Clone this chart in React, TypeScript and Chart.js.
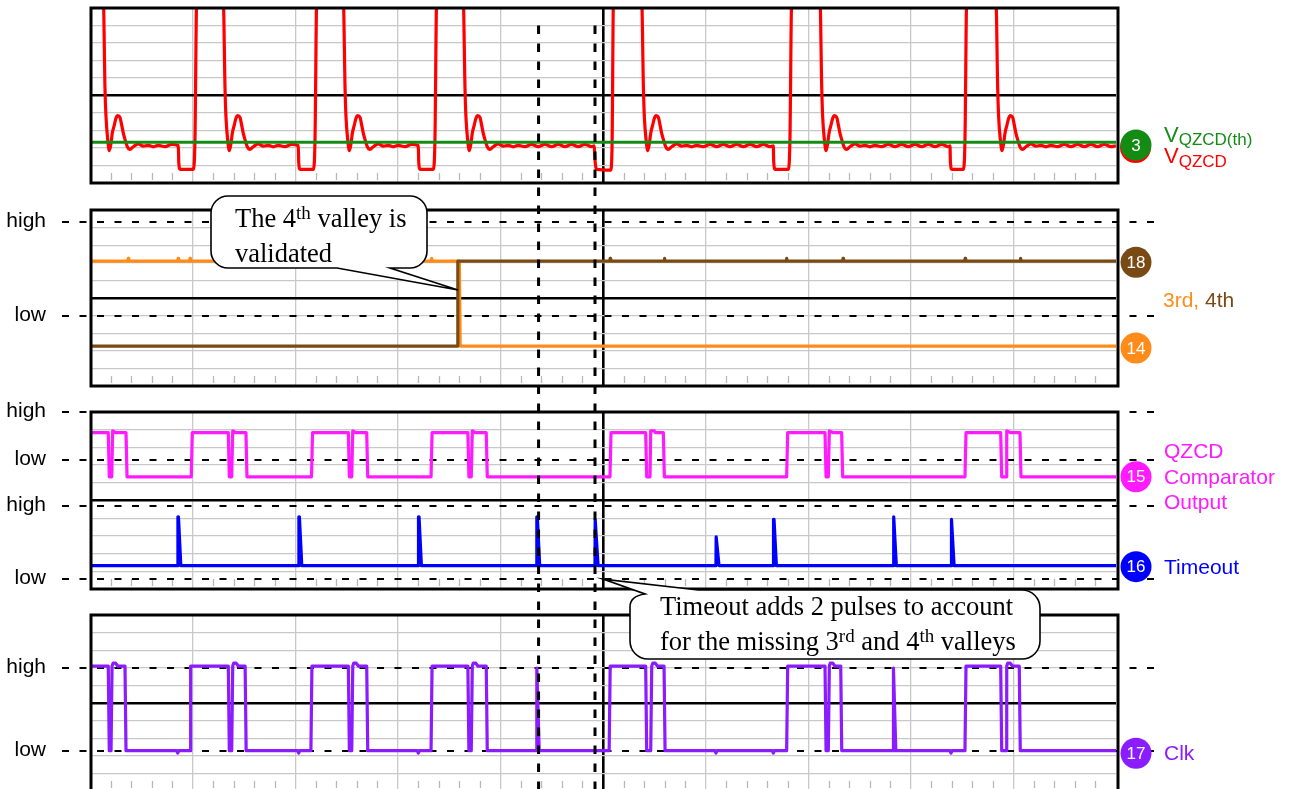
import { useEffect, useRef } from "react";
import { Chart, registerables } from "chart.js";

Chart.register(...registerables);

type Pt = [number, number];

// ---------------- data ----------------
// time axis in µs: 10 divisions of 10 µs, minor ticks every 2 µs
const timeMin = 0;
const timeMax = 100;
const timeMajor = 10;
const timeMinor = 2;
// every panel is 10 vertical divisions
const divMin = 0;
const divMax = 10;

// Panel 1 : V_QZCD(th) threshold and V_QZCD
const vqzcdThreshold: Pt[] = [[0, 2.33], [100, 2.33]];
const vqzcd: Pt[] = [
  [0, 10.4], [1.30, 10.4],
  [1.46, 5.41], [1.56, 3.79], [1.73, 2.46], [1.88, 1.85], [2.05, 2.27], [2.17, 2.84], [2.37, 3.31], [2.53, 3.70], [2.70, 3.85], [2.92, 3.75], [3.09, 3.31], [3.25, 2.84], [3.48, 2.36], [3.64, 2.07], [3.90, 1.92], [4.22, 2.07], [4.71, 2.23], [5.20, 2.11], [5.68, 2.15], [6.17, 2.07], [6.66, 2.15], [7.31, 2.08], [7.96, 2.20], [8.61, 2.13], [8.65, 1.2], [8.78, 0.78], [10.07, 0.78], [10.23, 2.46], [10.40, 10.4],
  [12.99, 10.4], [13.16, 5.41], [13.25, 3.79], [13.42, 2.46], [13.58, 1.85], [13.74, 2.27], [13.87, 2.84], [14.06, 3.31], [14.23, 3.70], [14.39, 3.85], [14.62, 3.75], [14.78, 3.31], [14.94, 2.84], [15.17, 2.36], [15.33, 2.07], [15.59, 1.92], [15.91, 2.07], [16.40, 2.23], [16.89, 2.11], [17.38, 2.15], [17.86, 2.07], [18.35, 2.15], [19.00, 2.08], [19.65, 2.20], [20.30, 2.13], [20.34, 1.2], [20.47, 0.78], [21.77, 0.78], [21.93, 2.46], [22.10, 10.4],
  [24.69, 10.4], [24.86, 5.41], [24.95, 3.79], [25.12, 2.46], [25.28, 1.85], [25.44, 2.27], [25.57, 2.84], [25.76, 3.31], [25.93, 3.70], [26.09, 3.85], [26.32, 3.75], [26.48, 3.31], [26.64, 2.84], [26.87, 2.36], [27.03, 2.07], [27.29, 1.92], [27.61, 2.07], [28.10, 2.23], [28.59, 2.11], [29.08, 2.15], [29.56, 2.07], [30.05, 2.15], [30.70, 2.08], [31.35, 2.20], [32.00, 2.13], [32.04, 1.2], [32.17, 0.78], [33.46, 0.78], [33.62, 2.46], [33.79, 10.4],
  [36.38, 10.4], [36.55, 5.41], [36.64, 3.79], [36.81, 2.46], [36.97, 1.85], [37.13, 2.27], [37.26, 2.84], [37.45, 3.31], [37.62, 3.70], [37.78, 3.85], [38.01, 3.75], [38.17, 3.31], [38.33, 2.84], [38.56, 2.36], [38.72, 2.07], [38.98, 1.92], [39.30, 2.07], [39.79, 2.23], [40.28, 2.11], [40.77, 2.15], [41.25, 2.07], [41.74, 2.15], [42.39, 2.08], [43.04, 2.20], [43.69, 2.08], [44.34, 2.20], [44.99, 2.08], [45.64, 2.20], [46.29, 2.08], [46.94, 2.20], [47.59, 2.08], [48.24, 2.20], [48.89, 2.08], [49.15, 2.13], [49.19, 1.6], [49.29, 0.93], [49.42, 0.78], [50.74, 0.74], [50.88, 2.0], [51.02, 10.4],
  [53.77, 10.4], [53.94, 5.41], [54.03, 3.79], [54.20, 2.46], [54.36, 1.85], [54.52, 2.27], [54.65, 2.84], [54.84, 3.31], [55.01, 3.70], [55.17, 3.85], [55.40, 3.75], [55.56, 3.31], [55.72, 2.84], [55.95, 2.36], [56.11, 2.07], [56.37, 1.92], [56.69, 2.07], [57.18, 2.23], [57.67, 2.11], [58.16, 2.15], [58.64, 2.07], [59.13, 2.15], [59.78, 2.08], [60.43, 2.20], [61.08, 2.08], [61.73, 2.20], [62.38, 2.08], [63.03, 2.20], [63.68, 2.08], [64.33, 2.20], [64.98, 2.08], [65.63, 2.20], [66.28, 2.08], [66.60, 2.13], [66.64, 1.2], [66.77, 0.78], [68.06, 0.78], [68.22, 2.46], [68.39, 10.4],
  [71.15, 10.4], [71.32, 5.41], [71.41, 3.79], [71.58, 2.46], [71.74, 1.85], [71.90, 2.27], [72.03, 2.84], [72.22, 3.31], [72.39, 3.70], [72.55, 3.85], [72.78, 3.75], [72.94, 3.31], [73.10, 2.84], [73.33, 2.36], [73.49, 2.07], [73.75, 1.92], [74.07, 2.07], [74.56, 2.23], [75.05, 2.11], [75.54, 2.15], [76.02, 2.07], [76.51, 2.15], [77.16, 2.08], [77.81, 2.20], [78.46, 2.08], [79.11, 2.20], [79.76, 2.08], [80.41, 2.20], [81.06, 2.08], [81.71, 2.20], [82.36, 2.08], [83.01, 2.20], [83.66, 2.08], [83.82, 2.13], [83.86, 1.2], [83.99, 0.78], [85.12, 0.78], [85.28, 2.46], [85.45, 10.4],
  [88.30, 10.4], [88.47, 5.41], [88.56, 3.79], [88.73, 2.46], [88.89, 1.85], [89.05, 2.27], [89.18, 2.84], [89.37, 3.31], [89.54, 3.70], [89.70, 3.85], [89.93, 3.75], [90.09, 3.31], [90.25, 2.84], [90.48, 2.36], [90.64, 2.07], [90.90, 1.92], [91.22, 2.07], [91.71, 2.23], [92.20, 2.11], [92.69, 2.15], [93.17, 2.07], [93.66, 2.15], [94.31, 2.08], [94.96, 2.20], [95.61, 2.08], [96.26, 2.20], [96.91, 2.08], [97.56, 2.20], [98.21, 2.08], [98.86, 2.20], [99.51, 2.08], [100, 2.13],
];

// Panel 2 : 3rd / 4th valley flags
const valley3rd: Pt[] = [
  [0, 7.10], [3.68, 7.10], [3.73, 7.25], [3.78, 7.10], [8.55, 7.10], [8.60, 7.25], [8.65, 7.10],
  [9.70, 7.10], [9.75, 7.25], [9.80, 7.10], [15.25, 7.10], [15.30, 7.25], [15.35, 7.10],
  [20.25, 7.10], [20.30, 7.25], [20.35, 7.10], [21.45, 7.10], [21.50, 7.25], [21.55, 7.10],
  [27.05, 7.10], [27.10, 7.25], [27.15, 7.10], [31.95, 7.10], [32.00, 7.25], [32.05, 7.10],
  [33.25, 7.10], [33.30, 7.25], [33.35, 7.10], [36.00, 7.10], [36.08, 2.27], [100, 2.27],
];
const valley4th: Pt[] = [
  [0, 2.27], [35.80, 2.27], [35.85, 7.10], [50.65, 7.10], [50.70, 7.25], [50.75, 7.10],
  [55.95, 7.10], [56.00, 7.25], [56.05, 7.10], [67.85, 7.10], [67.90, 7.25], [67.95, 7.10],
  [73.35, 7.10], [73.40, 7.25], [73.45, 7.10], [85.25, 7.10], [85.30, 7.25], [85.35, 7.10],
  [90.65, 7.10], [90.70, 7.25], [90.75, 7.10], [100, 7.10],
];

// Panel 3 : QZCD comparator output and timeout
const qzcdOutput: Pt[] = [
  [0, 8.84], [1.78, 8.84], [1.88, 6.34], [2.12, 6.34], [2.21, 8.93], [2.50, 8.84], [3.51, 8.84], [3.61, 6.34], [9.87, 6.34], [9.97, 8.84],
  [13.48, 8.84], [13.58, 6.34], [13.81, 6.34], [13.91, 8.93], [14.20, 8.84], [15.20, 8.84], [15.30, 6.34], [21.59, 6.34], [21.69, 8.84],
  [25.18, 8.84], [25.28, 6.34], [25.51, 6.34], [25.61, 8.93], [25.90, 8.84], [26.97, 8.84], [27.07, 6.34], [33.24, 6.34], [33.34, 8.84],
  [36.83, 8.84], [36.93, 6.34], [37.16, 6.34], [37.26, 8.93], [37.55, 8.84], [38.62, 8.84], [38.72, 6.34], [50.68, 6.34], [50.78, 8.84],
  [54.16, 8.84], [54.26, 6.34], [54.58, 6.34], [54.65, 8.93], [55.00, 8.93], [55.10, 8.84], [55.88, 8.84], [55.98, 6.34], [67.90, 6.34], [68.00, 8.84],
  [71.64, 8.84], [71.74, 6.34], [71.96, 6.34], [72.06, 8.93], [72.40, 8.84], [73.26, 8.84], [73.36, 6.34], [85.28, 6.34], [85.38, 8.84],
  [88.76, 8.84], [88.86, 6.34], [89.28, 6.34], [89.35, 8.93], [89.70, 8.84], [90.64, 8.84], [90.74, 6.34], [100, 6.34],
];
const timeout: Pt[] = [
  [0, 1.32],
  [8.55, 1.32], [8.57, 4.08], [8.62, 4.08], [8.85, 1.32],
  [20.34, 1.32], [20.36, 4.08], [20.41, 4.08], [20.64, 1.32],
  [32.00, 1.32], [32.02, 4.08], [32.07, 4.08], [32.30, 1.32],
  [43.53, 1.32], [43.55, 4.08], [43.60, 4.08], [43.83, 1.32],
  [49.22, 1.32], [49.24, 3.90], [49.29, 3.90], [49.52, 1.32],
  [61.01, 1.32], [61.03, 2.95], [61.08, 2.95], [61.31, 1.32],
  [66.60, 1.32], [66.62, 3.94], [66.67, 3.94], [66.90, 1.32],
  [78.29, 1.32], [78.31, 4.08], [78.36, 4.08], [78.59, 1.32],
  [83.92, 1.32], [83.94, 3.94], [83.99, 3.94], [84.22, 1.32],
  [100, 1.32],
];

// Panel 4 : Clk
const clk: Pt[] = [
  [0, 7.10], [1.78, 7.10], [1.88, 2.29], [2.05, 2.29], [2.15, 7.10], [2.25, 7.26], [2.50, 7.26], [2.70, 7.10], [3.41, 7.10], [3.51, 2.29],
  [8.45, 2.29], [8.55, 2.16], [8.65, 2.29], [9.75, 2.29], [9.81, 7.10],
  [13.48, 7.10], [13.58, 2.29], [13.81, 2.29], [13.91, 7.10], [14.00, 7.26], [14.25, 7.26], [14.45, 7.10], [15.12, 7.10], [15.22, 2.29],
  [20.24, 2.29], [20.34, 2.16], [20.44, 2.29], [21.53, 2.29], [21.63, 7.10],
  [25.18, 7.10], [25.28, 2.29], [25.51, 2.29], [25.61, 7.10], [25.70, 7.26], [25.95, 7.26], [26.15, 7.10], [26.97, 7.10], [27.07, 2.29],
  [31.90, 2.29], [32.00, 2.16], [32.10, 2.29], [33.24, 2.29], [33.34, 7.10],
  [36.83, 7.10], [36.93, 2.29], [37.16, 2.29], [37.26, 7.10], [37.35, 7.26], [37.60, 7.26], [37.80, 7.10], [38.62, 7.10], [38.72, 2.29],
  [43.53, 2.29], [43.55, 6.99], [43.78, 2.29], [50.60, 2.29], [50.70, 7.10],
  [54.16, 7.10], [54.26, 2.29], [54.65, 2.29], [54.75, 7.10], [54.85, 7.26], [55.10, 7.26], [55.30, 7.10], [55.95, 7.10], [56.05, 2.29],
  [60.91, 2.29], [61.01, 2.16], [61.11, 2.29], [66.50, 2.29], [66.60, 2.16], [66.70, 2.29], [67.90, 2.29], [68.00, 7.10],
  [71.64, 7.10], [71.74, 2.29], [71.96, 2.29], [72.06, 7.10], [72.15, 7.26], [72.40, 7.26], [72.60, 7.10], [73.17, 7.10], [73.27, 2.29],
  [78.29, 2.29], [78.31, 6.99], [78.54, 2.29], [83.82, 2.29], [83.92, 2.16], [84.02, 2.29], [85.28, 2.29], [85.38, 7.10],
  [88.76, 7.10], [88.86, 2.29], [89.28, 2.29], [89.35, 7.10], [89.45, 7.26], [89.70, 7.26], [89.90, 7.10], [90.57, 7.10], [90.67, 2.29],
  [100, 2.29],
];

// logic level rows (high, low) per panel
const rowLabels = ["high", "low"];
const valleyRows = [9.32, 3.98];
const qzcdRows = [10.0, 7.29];
const timeoutRows = [4.69, 0.56];
const clkRows = [6.99, 2.27];

// vertical markers (µs)
const markerTimes = [43.72, 49.22];
const markerTopDiv = 9.0;

// callout anchors (time µs, divisions)
const callout1Tip: Pt = [35.87, 5.45];
const callout2Tip: Pt = [50.0, 0.56];

// ---------------- styling / layout ----------------
const CANVAS_W = 1289;
const CANVAS_H = 800;
const PLOT_LEFT = 90;
const PLOT_RIGHT = 1116;
const PANEL_BOXES = [
  { top: 8, bottom: 183 },
  { top: 210, bottom: 386 },
  { top: 412, bottom: 589 },
  { top: 615, bottom: 791 },
];
const SANS = '"Liberation Sans", Arial, Helvetica, sans-serif';
const SERIF = '"Liberation Serif", "Times New Roman", serif';
const GRID_GRAY = "#c8c8c8";
const C = {
  red: "#ff0000",
  green: "#148c14",
  orange: "#ff8c1a",
  brown: "#7a4a14",
  magenta: "#ff1aff",
  blue: "#0000ff",
  purple: "#8a1cff",
};

const toXY = (a: Pt[]) => a.map(([x, y]) => ({ x, y }));

function xScaleOpts(): any {
  const mid = (timeMin + timeMax) / 2;
  return {
    type: "linear",
    min: timeMin,
    max: timeMax,
    ticks: { display: false, stepSize: timeMajor },
    grid: {
      drawTicks: false,
      color: (c: any) => {
        const v = c.tick?.value;
        if (v === timeMin || v === timeMax) return "rgba(0,0,0,0)";
        return Math.abs(v - mid) < 1e-6 ? "#000" : GRID_GRAY;
      },
      lineWidth: (c: any) => (Math.abs((c.tick?.value ?? 0) - mid) < 1e-6 ? 2.6 : 1.3),
    },
    border: { display: false },
    afterFit: (s: any) => {
      s.height = 0;
    },
  };
}

function yScaleOpts(): any {
  const mid = (divMin + divMax) / 2;
  return {
    type: "linear",
    min: divMin,
    max: divMax,
    ticks: { display: false, stepSize: 1 },
    grid: {
      drawTicks: false,
      color: (c: any) => {
        const v = c.tick?.value;
        if (v === divMin || v === divMax) return "rgba(0,0,0,0)";
        return Math.abs(v - mid) < 1e-6 ? "#000" : GRID_GRAY;
      },
      lineWidth: (c: any) => (Math.abs((c.tick?.value ?? 0) - mid) < 1e-6 ? 2.6 : 1.3),
    },
    border: { display: false },
    afterFit: (s: any) => {
      s.width = 0;
    },
  };
}

type Run = { text: string; size: number; dy?: number; color?: string; family?: string };

function drawRuns(ctx: CanvasRenderingContext2D, x: number, y: number, runs: Run[]) {
  ctx.textAlign = "left";
  ctx.textBaseline = "alphabetic";
  let cx = x;
  for (const r of runs) {
    ctx.font = `${r.size}px ${r.family ?? SANS}`;
    ctx.fillStyle = r.color ?? "#000";
    ctx.fillText(r.text, cx, y + (r.dy ?? 0));
    cx += ctx.measureText(r.text).width;
  }
}

function badge(ctx: CanvasRenderingContext2D, x: number, y: number, color: string, text: string) {
  ctx.beginPath();
  ctx.arc(x, y, 15.5, 0, Math.PI * 2);
  ctx.fillStyle = color;
  ctx.fill();
  ctx.fillStyle = "#fff";
  ctx.font = `17px ${SANS}`;
  ctx.textAlign = "center";
  ctx.textBaseline = "middle";
  ctx.fillText(text, x, y + 1);
}

function drawCallout1(ctx: CanvasRenderingContext2D, tipX: number, tipY: number) {
  const l = 211, t = 196, r = 427, b = 268, rad = 17;
  ctx.beginPath();
  ctx.moveTo(l + rad, t);
  ctx.lineTo(r - rad, t);
  ctx.arcTo(r, t, r, t + rad, rad);
  ctx.lineTo(r, b - rad);
  ctx.arcTo(r, b, r - rad, b, rad);
  ctx.lineTo(390, b);
  ctx.lineTo(tipX, tipY);
  ctx.lineTo(337, b);
  ctx.lineTo(l + rad, b);
  ctx.arcTo(l, b, l, b - rad, rad);
  ctx.lineTo(l, t + rad);
  ctx.arcTo(l, t, l + rad, t, rad);
  ctx.closePath();
  ctx.fillStyle = "#fff";
  ctx.fill();
  ctx.strokeStyle = "#000";
  ctx.lineWidth = 1.6;
  ctx.setLineDash([]);
  ctx.stroke();
  const fs = 26.5, ss = 19;
  drawRuns(ctx, 235, 227, [
    { text: "The 4", size: fs, family: SERIF },
    { text: "th", size: ss, dy: -8.5, family: SERIF },
    { text: " valley is", size: fs, family: SERIF },
  ]);
  drawRuns(ctx, 235, 262, [{ text: "validated", size: fs, family: SERIF }]);
}

function drawCallout2(ctx: CanvasRenderingContext2D, tipX: number, tipY: number) {
  const l = 630, t = 590, r = 1040, b = 659, rad = 18;
  ctx.beginPath();
  ctx.moveTo(698, t);
  ctx.lineTo(r - rad, t);
  ctx.arcTo(r, t, r, t + rad, rad);
  ctx.lineTo(r, b - rad);
  ctx.arcTo(r, b, r - rad, b, rad);
  ctx.lineTo(l + rad, b);
  ctx.arcTo(l, b, l, b - rad, rad);
  ctx.lineTo(l, t + 17);
  ctx.quadraticCurveTo(l, t + 6, l + 15, t + 4);
  ctx.lineTo(tipX, tipY);
  ctx.closePath();
  ctx.fillStyle = "#fff";
  ctx.fill();
  ctx.strokeStyle = "#000";
  ctx.lineWidth = 1.6;
  ctx.setLineDash([]);
  ctx.stroke();
  const fs = 26.5, ss = 19;
  drawRuns(ctx, 660, 615, [{ text: "Timeout adds 2 pulses to account", size: fs, family: SERIF }]);
  drawRuns(ctx, 660, 650, [
    { text: "for the missing 3", size: fs, family: SERIF },
    { text: "rd", size: ss, dy: -8.5, family: SERIF },
    { text: " and 4", size: fs, family: SERIF },
    { text: "th", size: ss, dy: -8.5, family: SERIF },
    { text: " valleys", size: fs, family: SERIF },
  ]);
}

function makePanelPlugin(rows: number[], afterDraw: (chart: any) => void): any {
  return {
    id: "panelDeco",
    beforeDatasetsDraw(chart: any) {
      const { ctx, chartArea: a, scales } = chart;
      const xs = scales.x;
      const ys = scales.y;
      ctx.save();
      ctx.strokeStyle = "#b8b8b8";
      ctx.lineWidth = 1.3;
      ctx.beginPath();
      for (let v = timeMin + timeMinor; v < timeMax - 1e-6; v += timeMinor) {
        if (Math.abs(v / timeMajor - Math.round(v / timeMajor)) < 1e-6) continue;
        const x = Math.round(xs.getPixelForValue(v)) + 0.5;
        ctx.moveTo(x, a.bottom - 10);
        ctx.lineTo(x, a.bottom - 3);
      }
      ctx.stroke();
      ctx.strokeStyle = "#000";
      ctx.lineWidth = 2;
      ctx.setLineDash([7, 10.5]);
      for (const r of rows) {
        const y = ys.getPixelForValue(r);
        ctx.beginPath();
        ctx.moveTo(a.left - 28, y);
        ctx.lineTo(a.right + 46, y);
        ctx.stroke();
      }
      ctx.restore();
    },
    afterDatasetsDraw(chart: any) {
      const { ctx, chartArea: a } = chart;
      ctx.save();
      ctx.strokeStyle = "#000";
      ctx.lineWidth = 3;
      ctx.setLineDash([]);
      ctx.strokeRect(a.left + 1, a.top, a.right - a.left + 1, a.bottom - a.top);
      ctx.restore();
    },
    afterDraw(chart: any) {
      const { ctx, scales } = chart;
      ctx.save();
      ctx.font = `21px ${SANS}`;
      ctx.fillStyle = "#000";
      ctx.textAlign = "right";
      ctx.textBaseline = "alphabetic";
      rows.forEach((r, i) => ctx.fillText(rowLabels[i % 2], 46, scales.y.getPixelForValue(r) + 5));
      afterDraw(chart);
      ctx.restore();
    },
  };
}

function line(data: Pt[], color: string, extra: any = {}) {
  return {
    data: toXY(data),
    borderColor: color,
    borderWidth: 3.2,
    pointRadius: 0,
    fill: false,
    tension: 0,
    borderJoinStyle: "round",
    ...extra,
  };
}

export default function App() {
  const r0 = useRef<HTMLCanvasElement>(null);
  const r1 = useRef<HTMLCanvasElement>(null);
  const r2 = useRef<HTMLCanvasElement>(null);
  const r3 = useRef<HTMLCanvasElement>(null);

  useEffect(() => {
    const refs = [r0, r1, r2, r3];
    const charts: any[] = [];
    const labelX = PLOT_RIGHT + 48;
    const badgeX = PLOT_RIGHT + 20;

    const deco = [
      makePanelPlugin([], (chart) => {
        const { ctx, scales } = chart;
        const yG = scales.y.getPixelForValue(vqzcdThreshold[vqzcdThreshold.length - 1][1]);
        const cy = yG + 2.7;
        ctx.beginPath();
        ctx.arc(badgeX - 0.5, cy + 2.6, 15.5, 0, Math.PI * 2);
        ctx.fillStyle = C.red;
        ctx.fill();
        badge(ctx, badgeX, cy, C.green, "3");
        drawRuns(ctx, labelX, cy - 3.3, [
          { text: "V", size: 22, color: C.green },
          { text: "QZCD(th)", size: 17, dy: 3.5, color: C.green },
        ]);
        drawRuns(ctx, labelX, cy + 18.3, [
          { text: "V", size: 22, color: C.red },
          { text: "QZCD", size: 17, dy: 3.5, color: C.red },
        ]);
      }),
      makePanelPlugin(valleyRows, (chart) => {
        const { ctx, scales } = chart;
        const y18 = scales.y.getPixelForValue(valley4th[valley4th.length - 1][1]) + 1.3;
        const y14 = scales.y.getPixelForValue(valley3rd[valley3rd.length - 1][1]) + 2;
        badge(ctx, badgeX, y18, C.brown, "18");
        badge(ctx, badgeX, y14, C.orange, "14");
        drawRuns(ctx, labelX - 1, (y18 + y14) / 2 + 1.5, [
          { text: "3rd,", size: 21, color: C.orange },
          { text: " 4th", size: 21, color: C.brown },
        ]);
      }),
      makePanelPlugin([...qzcdRows, ...timeoutRows], (chart) => {
        const { ctx, scales } = chart;
        const y15 = scales.y.getPixelForValue(qzcdOutput[qzcdOutput.length - 1][1]);
        const y16 = scales.y.getPixelForValue(timeout[timeout.length - 1][1]) + 1;
        badge(ctx, badgeX, y15, C.magenta, "15");
        badge(ctx, badgeX, y16, C.blue, "16");
        drawRuns(ctx, labelX, y15 - 19.2, [{ text: "QZCD", size: 21, color: C.magenta }]);
        drawRuns(ctx, labelX, y15 + 6.8, [{ text: "Comparator", size: 21, color: C.magenta }]);
        drawRuns(ctx, labelX, y15 + 32.5, [{ text: "Output", size: 21, color: C.magenta }]);
        drawRuns(ctx, labelX, y16 + 7.5, [{ text: "Timeout", size: 21, color: C.blue }]);
      }),
      makePanelPlugin(clkRows, (chart) => {
        const { ctx, scales } = chart;
        const y17 = scales.y.getPixelForValue(clk[clk.length - 1][1]) + 2.5;
        badge(ctx, badgeX, y17, C.purple, "17");
        drawRuns(ctx, labelX, y17 + 7, [{ text: "Clk", size: 21, color: C.purple }]);

        // overlay: vertical markers and callouts (topmost canvas)
        const top = charts[0] ? charts[0].scales.y.getPixelForValue(markerTopDiv) : 25;
        ctx.strokeStyle = "#000";
        ctx.lineWidth = 3;
        ctx.setLineDash([8.5, 9.5]);
        for (const t of markerTimes) {
          const x = scales.x.getPixelForValue(t);
          ctx.beginPath();
          ctx.moveTo(x, top);
          ctx.lineTo(x, CANVAS_H);
          ctx.stroke();
        }
        ctx.setLineDash([]);
        if (charts[1]) {
          const s = charts[1].scales;
          drawCallout1(ctx, s.x.getPixelForValue(callout1Tip[0]), s.y.getPixelForValue(callout1Tip[1]));
        }
        if (charts[2]) {
          const s = charts[2].scales;
          drawCallout2(ctx, s.x.getPixelForValue(callout2Tip[0]), s.y.getPixelForValue(callout2Tip[1]));
        }
      }),
    ];

    const datasets: any[][] = [
      [
        line(vqzcdThreshold, C.green, { label: "VQZCD(th)" }),
        line(vqzcd, C.red, { label: "VQZCD", cubicInterpolationMode: "monotone" }),
      ],
      [line(valley4th, C.brown, { label: "4th" }), line(valley3rd, C.orange, { label: "3rd" })],
      [line(qzcdOutput, C.magenta, { label: "QZCD Comparator Output" }), line(timeout, C.blue, { label: "Timeout" })],
      [line(clk, C.purple, { label: "Clk" })],
    ];

    refs.forEach((ref, i) => {
      const canvas = ref.current;
      if (!canvas) return;
      const box = PANEL_BOXES[i];
      const chart = new Chart(canvas, {
        type: "line",
        data: { datasets: datasets[i] },
        options: {
          animation: false,
          responsive: false,
          maintainAspectRatio: false,
          events: [],
          layout: {
            padding: {
              left: PLOT_LEFT,
              right: CANVAS_W - PLOT_RIGHT,
              top: box.top,
              bottom: CANVAS_H - box.bottom,
            },
          },
          scales: { x: xScaleOpts(), y: yScaleOpts() },
          plugins: { legend: { display: false }, tooltip: { enabled: false } },
        } as any,
        plugins: [deco[i]],
      });
      charts.push(chart);
    });

    return () => {
      charts.forEach((c) => c.destroy());
    };
  }, []);

  const canvasStyle: any = { position: "absolute", left: 0, top: 0, width: CANVAS_W, height: CANVAS_H };
  return (
    <div
      style={{
        position: "fixed",
        left: 0,
        top: 0,
        width: CANVAS_W,
        height: 789,
        overflow: "hidden",
        background: "#fff",
      }}
    >
      <canvas ref={r0} width={CANVAS_W} height={CANVAS_H} style={canvasStyle} />
      <canvas ref={r1} width={CANVAS_W} height={CANVAS_H} style={canvasStyle} />
      <canvas ref={r2} width={CANVAS_W} height={CANVAS_H} style={canvasStyle} />
      <canvas ref={r3} width={CANVAS_W} height={CANVAS_H} style={canvasStyle} />
    </div>
  );
}
